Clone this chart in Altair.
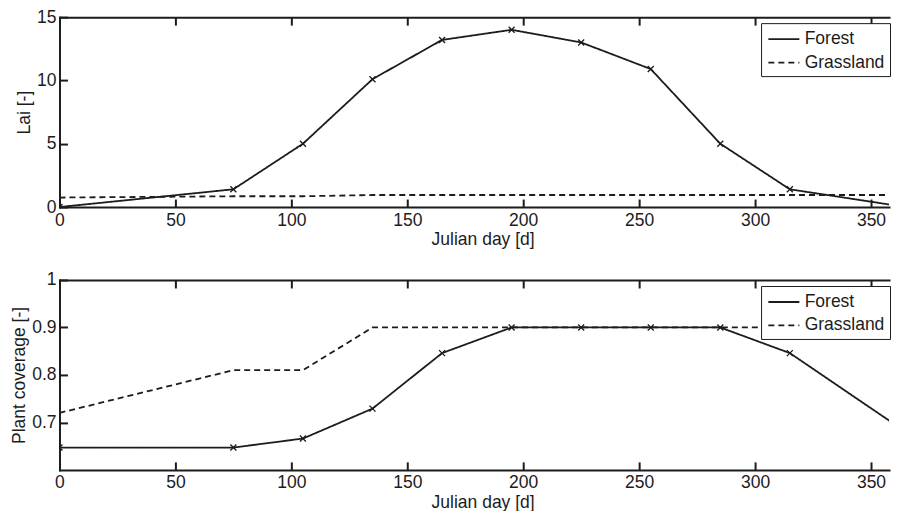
import altair as alt
import pandas as pd

# ---------------- data ----------------
days = [0, 75, 105, 135, 165, 195, 225, 255, 285, 315, 365]
lai_forest = [0.0, 1.4, 5.0, 10.1, 13.2, 14.0, 13.0, 10.9, 5.0, 1.4, 0.0]
lai_grass = [0.75, 0.85, 0.85, 0.95, 0.95, 0.95, 0.95, 0.95, 0.95, 0.95, 0.95]
cov_forest = [0.647, 0.647, 0.666, 0.729, 0.846, 0.9, 0.9, 0.9, 0.9, 0.846, 0.68]
cov_grass = [0.72, 0.81, 0.81, 0.9, 0.9, 0.9, 0.9, 0.9, 0.9, 0.9, 0.9]
series = ["Forest", "Grassland"]
x_ticks = [0, 50, 100, 150, 200, 250, 300, 350]
lai_ticks = [0, 5, 10, 15]
cov_ticks = [0.7, 0.8, 0.9, 1.0]
x_title = "Julian day [d]"
lai_title = "Lai [-]"
cov_title = "Plant coverage [-]"

# ---------------- styling ----------------
FONT = "Liberation Sans"
INK = "#1c1c1c"
FS = 17.5
W, H = 830, 190
PX_PER_DAY = 2.32
XMAX = W / PX_PER_DAY  # visible right end of the x axis (figure is cropped)
XFULL = 365            # full axis end, used to centre the title
TICK = 8


def make_df(forest, grass):
    rows = []
    for d, v in zip(days, forest):
        rows.append({"day": d, "value": v, "series": "Forest"})
    for d, v in zip(days, grass):
        rows.append({"day": d, "value": v, "series": "Grassland"})
    return pd.DataFrame(rows)


def panel(df, ydom, yticks, ytitle):
    xs = alt.Scale(domain=[0, XMAX], nice=False, zero=False)
    ys = alt.Scale(domain=ydom, nice=False, zero=False)
    base = alt.Chart(df)
    inside = base.transform_filter(alt.datum.day <= XMAX)

    x_main = alt.Axis(values=x_ticks, ticks=False, domain=True, domainColor=INK,
                      domainWidth=2, domainCap="square", labelPadding=4,
                      labelFlush=False, labelOverlap=False, title=x_title,
                      titlePadding=2, titleX=W * XFULL / XMAX / 2)
    y_main = alt.Axis(values=yticks, ticks=False, domain=True, domainColor=INK,
                      domainWidth=2, domainCap="square", labelPadding=3.5,
                      labelFlush=False, labelOverlap=False, format="~g",
                      title=ytitle, titlePadding=3)

    lines = base.mark_line(strokeWidth=1.8, color=INK, clip=True).encode(
        x=alt.X("day:Q", scale=xs, axis=x_main),
        y=alt.Y("value:Q", scale=ys, axis=y_main),
        strokeDash=alt.StrokeDash(
            "series:N",
            scale=alt.Scale(domain=series, range=[[1, 0], [6, 4]]),
            legend=alt.Legend(
                orient="none", legendX=W - 128, legendY=6, title=None,
                direction="vertical", strokeColor=INK, fillColor="white",
                padding=5, symbolType="M-1.6,0L1.6,0", symbolSize=376,
                symbolOffset=6.8, symbolFillColor="transparent",
                symbolStrokeWidth=1.8, symbolStrokeColor=INK,
                labelFont=FONT, labelFontSize=FS, labelColor=INK,
                labelOffset=9.8, rowPadding=3.5, cornerRadius=0,
            ),
        ),
    )

    markers = inside.transform_filter(alt.datum.series == "Forest").mark_point(
        shape="M-1,-1L1,1M-1,1L1,-1", size=36, strokeWidth=1.3, color=INK,
        filled=False, opacity=1, clip=True,
    ).encode(
        x=alt.X("day:Q", scale=xs, axis=None),
        y=alt.Y("value:Q", scale=ys, axis=None),
    )

    # inward ticks on bottom and left
    ticks_bl = inside.mark_point(opacity=0, clip=True).encode(
        x=alt.X("day:Q", scale=xs, axis=alt.Axis(
            orient="bottom", offset=-TICK, values=x_ticks, ticks=True,
            tickSize=TICK, tickWidth=2, tickColor=INK, domain=False,
            labels=False, title=None, grid=False)),
        y=alt.Y("value:Q", scale=ys, axis=alt.Axis(
            orient="left", offset=-TICK, values=yticks, ticks=True,
            tickSize=TICK, tickWidth=2, tickColor=INK, domain=False,
            labels=False, title=None, grid=False)),
    )
    # inward ticks on top
    ticks_t = inside.mark_point(opacity=0, clip=True).encode(
        x=alt.X("day:Q", scale=xs, axis=alt.Axis(
            orient="top", offset=-TICK, values=x_ticks, ticks=True,
            tickSize=TICK, tickWidth=2, tickColor=INK, domain=False,
            labels=False, title=None, grid=False)),
        y=alt.Y("value:Q", scale=ys, axis=None),
    )
    # top border line
    border_t = inside.mark_point(opacity=0, clip=True).encode(
        x=alt.X("day:Q", scale=xs, axis=alt.Axis(
            orient="top", values=x_ticks, ticks=False, domain=True,
            domainColor=INK, domainWidth=2, domainCap="square",
            labels=False, title=None, grid=False)),
        y=alt.Y("value:Q", scale=ys, axis=None),
    )

    return alt.layer(lines, markers, ticks_bl, ticks_t, border_t).resolve_axis(
        x="independent", y="independent"
    ).properties(width=W, height=H)


top = panel(make_df(lai_forest, lai_grass), [0, 15], lai_ticks, lai_title)
bottom = panel(make_df(cov_forest, cov_grass), [0.6, 1.0], cov_ticks, cov_title)

chart = alt.vconcat(top, bottom, spacing=73, bounds="flush").resolve_legend(
    strokeDash="independent"
).properties(
    padding={"left": 2.5, "top": 0, "right": 0, "bottom": 0},
    background="white",
).configure_view(
    strokeWidth=0
).configure_axis(
    labelFont=FONT, labelFontSize=FS, labelColor=INK,
    titleFont=FONT, titleFontSize=FS, titleColor=INK, titleFontWeight="normal",
    grid=False,
)

chart.save("out.html", embed_options={"renderer": "svg", "actions": False})
